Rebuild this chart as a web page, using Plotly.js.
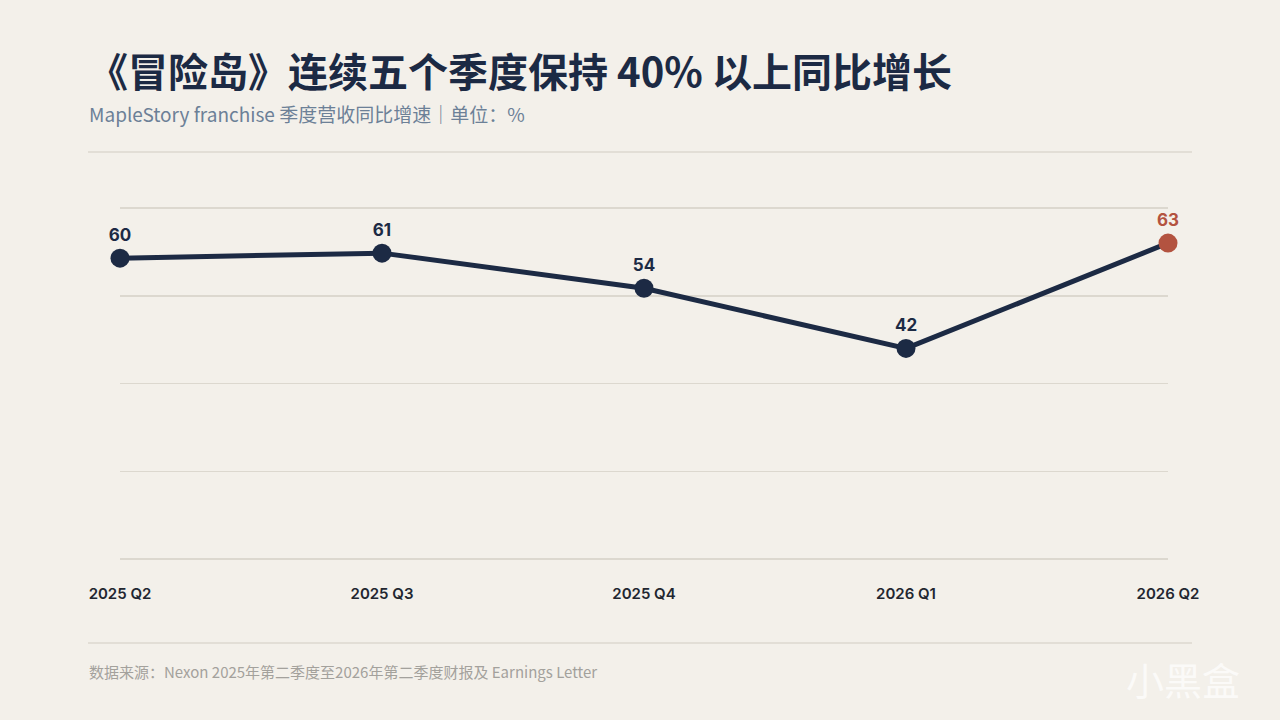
<!DOCTYPE html>
<html>
<head>
<meta charset="utf-8">
<script src="https://cdn.plot.ly/plotly-3.0.1.min.js"></script>
<style>
  html, body { margin: 0; padding: 0; background: #f3f0ea; }
  #graph { width: 1280px; height: 720px; }
</style>
</head>
<body>
<div id="graph"></div>
<script>
// quarters and YoY growth (%)
var quarters = ['2025 Q2', '2025 Q3', '2025 Q4', '2026 Q1', '2026 Q2'];
var growth = [60, 61, 54, 42, 63];
var labels = ['60', '61', '54', '42', '63'];

var navy = '#1c2a44';
var red = '#b35340';
var pointColors = growth.map(function(v, i) { return i === growth.length - 1 ? red : navy; });

var trace0 = {
    x: quarters,
    y: growth,
    text: labels,
    mode: 'lines+markers+text',
    textposition: 'top center',
    cliponaxis: false,
    line: { color: navy, width: 5 },
    marker: { size: 19, color: pointColors },
    textfont: { family: 'Inter, "Noto Sans", sans-serif', size: 17, color: pointColors, weight: 700 },
    hoverinfo: 'none'
};

// plot box is 1048 x 357 px (top 205, bottom 562); page pixels -> paper coords
function px(x) { return (x - 120) / 1048; }
function py(y) { return (562 - y) / 357; }

var layout = {
    width: 1280,
    height: 720,
    paper_bgcolor: '#f3f0ea',
    plot_bgcolor: '#f3f0ea',
    showlegend: false,
    margin: { l: 120, r: 112, t: 205, b: 158 },
    font: { family: '"Noto Sans CJK SC", "Noto Sans", sans-serif' },
    xaxis: {
        type: 'category',
        range: [0, 4],
        showgrid: false,
        zeroline: false,
        showline: false,
        ticks: '',
        ticklabelstandoff: 21,
        tickfont: { family: 'Inter, "Noto Sans", sans-serif', size: 15, color: '#222630', weight: 600 }
    },
    yaxis: {
        range: [-0.6, 70.6],
        tick0: 0,
        dtick: 17.5,
        showticklabels: false,
        gridcolor: '#dcd8cf',
        gridwidth: 1.5,
        zeroline: false,
        showline: false,
        fixedrange: true
    },
    shapes: [
        { type: 'line', xref: 'paper', yref: 'paper', x0: px(88), x1: px(1192), y0: py(152), y1: py(152),
          line: { color: '#dcd8cf', width: 1.5 } },
        { type: 'line', xref: 'paper', yref: 'paper', x0: px(88), x1: px(1192), y0: py(643), y1: py(643),
          line: { color: '#dcd8cf', width: 1.5 } }
    ],
    annotations: [
        { xref: 'paper', yref: 'paper', x: px(86), y: py(70), xanchor: 'left', yanchor: 'middle', showarrow: false,
          text: '《冒险岛》连续五个季度保持 40% 以上同比增长',
          font: { family: '"Noto Sans CJK SC", sans-serif', size: 40, color: navy, weight: 700 } },
        { xref: 'paper', yref: 'paper', x: px(87), y: py(113), xanchor: 'left', yanchor: 'middle', showarrow: false,
          text: 'MapleStory franchise 季度营收同比增速｜单位：%',
          font: { family: '"Noto Sans CJK SC", sans-serif', size: 19, color: '#6c8097' } },
        { xref: 'paper', yref: 'paper', x: px(87), y: py(671), xanchor: 'left', yanchor: 'middle', showarrow: false,
          text: '数据来源：Nexon 2025年第二季度至2026年第二季度财报及 Earnings Letter',
          font: { family: '"Noto Sans CJK SC", sans-serif', size: 15, color: '#a3a19c' } },
        { xref: 'paper', yref: 'paper', x: px(1242), y: py(678), xanchor: 'right', yanchor: 'middle', showarrow: false,
          text: '小黑盒',
          font: { family: '"Noto Sans CJK SC", sans-serif', size: 38, color: 'rgba(255,255,255,0.7)' } }
    ]
};

var graph = document.getElementById('graph');
Plotly.newPlot(graph, [trace0], layout, { staticPlot: true });
</script>
</body>
</html>
